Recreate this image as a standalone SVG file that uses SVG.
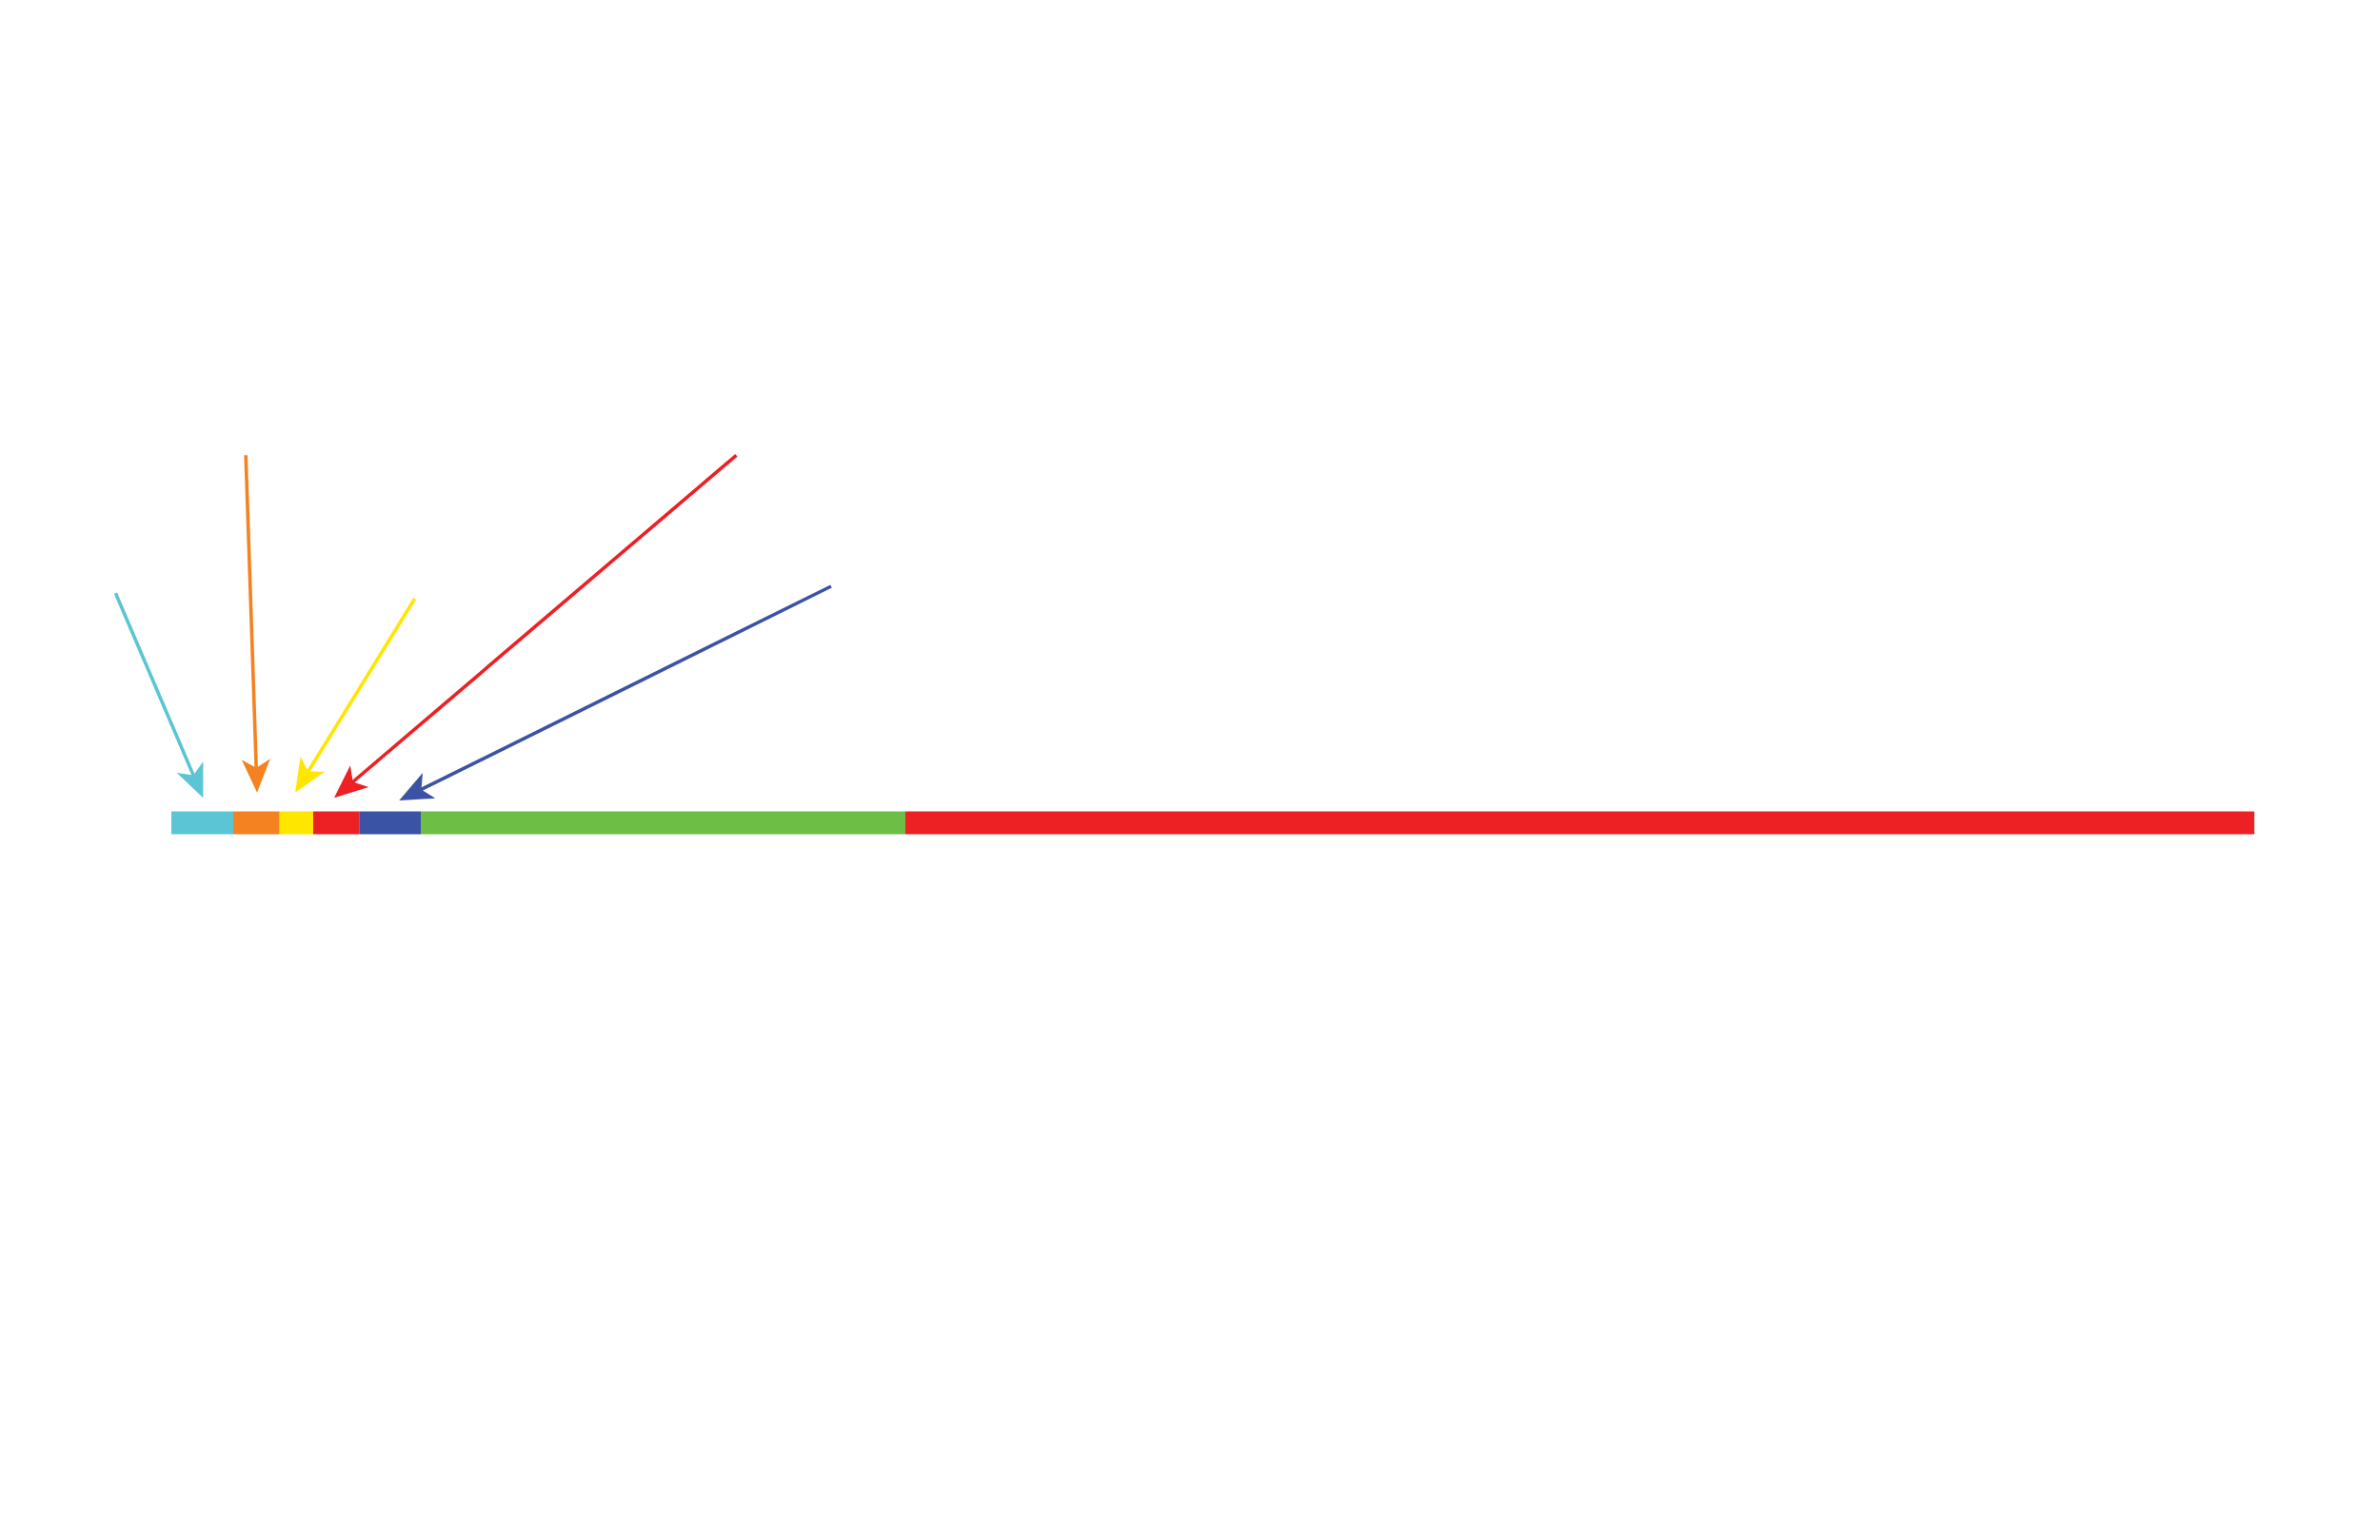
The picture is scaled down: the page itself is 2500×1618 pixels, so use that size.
<svg xmlns="http://www.w3.org/2000/svg" width="2500" height="1618" viewBox="0 0 2500 1618">
<style>
.ln{fill:none;stroke-width:3.6;stroke-linecap:butt}
.cy{fill:#5BC5D5;stroke:#5BC5D5}
.or{fill:#F58220;stroke:#F58220}
.ye{fill:#FFE600;stroke:#FFE600}
.rd{fill:#ED2024;stroke:#ED2024}
.bl{fill:#3A53A4;stroke:#3A53A4}
.gr{fill:#6DBE45;stroke:#6DBE45}
.seg{stroke:none}
</style>
<defs>
<marker id="m-cy" markerUnits="userSpaceOnUse" orient="auto" refX="0" refY="0" markerWidth="80" markerHeight="80" overflow="visible"><path d="M22,0 L-13,-15 L-4,0 L-13,15 Z" fill="#5BC5D5"/></marker>
<marker id="m-or" markerUnits="userSpaceOnUse" orient="auto" refX="0" refY="0" markerWidth="80" markerHeight="80" overflow="visible"><path d="M22,0 L-13,-15 L-4,0 L-13,15 Z" fill="#F58220"/></marker>
<marker id="m-ye" markerUnits="userSpaceOnUse" orient="auto" refX="0" refY="0" markerWidth="80" markerHeight="80" overflow="visible"><path d="M22,0 L-13,-15 L-4,0 L-13,15 Z" fill="#FFE600"/></marker>
<marker id="m-rd" markerUnits="userSpaceOnUse" orient="auto" refX="0" refY="0" markerWidth="80" markerHeight="80" overflow="visible"><path d="M22,0 L-13,-15 L-4,0 L-13,15 Z" fill="#ED2024"/></marker>
<marker id="m-bl" markerUnits="userSpaceOnUse" orient="auto" refX="0" refY="0" markerWidth="80" markerHeight="80" overflow="visible"><path d="M22,0 L-13,-15 L-4,0 L-13,15 Z" fill="#3A53A4"/></marker>
</defs>
<rect width="2500" height="1618" fill="#ffffff"/>
<g id="bar">
<rect id="seg-cyan" class="seg cy" x="180" y="852.5" width="65" height="24"/>
<rect id="seg-orange" class="seg or" x="245" y="852.5" width="48.7" height="24"/>
<rect id="seg-yellow" class="seg ye" x="293.7" y="852.5" width="35.3" height="24"/>
<rect id="seg-red1" class="seg rd" x="329" y="852.5" width="48.3" height="24"/>
<rect id="seg-blue" class="seg bl" x="377.3" y="852.5" width="64.7" height="24"/>
<rect id="seg-green" class="seg gr" x="442" y="852.5" width="509" height="24"/>
<rect id="seg-red2" class="seg rd" x="951" y="852.5" width="1417" height="24"/>
</g>
<g id="connectors">
<line class="ln cy" x1="121.4" y1="623.3" x2="204.7" y2="818.1" marker-end="url(#m-cy)"/>
<line class="ln or" x1="258.2" y1="478.3" x2="269.3" y2="810.7" marker-end="url(#m-or)"/>
<line class="ln ye" x1="435.7" y1="629" x2="321.6" y2="814" marker-end="url(#m-ye)"/>
<line class="ln rd" x1="773.5" y1="478.3" x2="367.7" y2="824" marker-end="url(#m-rd)"/>
<line class="ln bl" x1="873" y1="616" x2="439" y2="831.2" marker-end="url(#m-bl)"/>
</g>
</svg>
